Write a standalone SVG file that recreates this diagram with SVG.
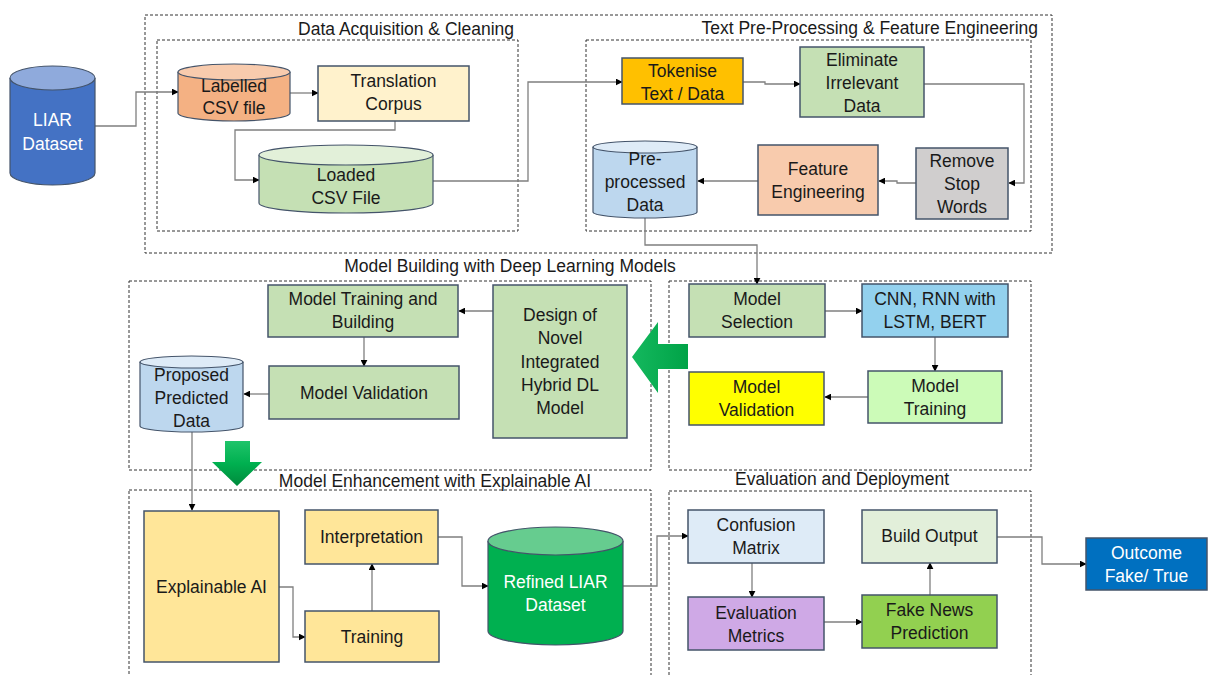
<svg xmlns="http://www.w3.org/2000/svg" width="1208" height="675" viewBox="0 0 1208 675">
  <defs>
    <marker id="arr" viewBox="0 0 10 10" refX="9" refY="5" markerWidth="7" markerHeight="7" orient="auto" markerUnits="userSpaceOnUse">
      <path d="M0,0 L10,5 L0,10 z" fill="#000"/>
    </marker>
    <linearGradient id="gV" x1="0" y1="0" x2="0" y2="1">
      <stop offset="0" stop-color="#1fc46a"/>
      <stop offset="0.5" stop-color="#00b050"/>
      <stop offset="1" stop-color="#008a3c"/>
    </linearGradient>
    <linearGradient id="gH" x1="0" y1="0" x2="1" y2="0">
      <stop offset="0" stop-color="#14b85e"/>
      <stop offset="1" stop-color="#00a347"/>
    </linearGradient>
    <style>
      text { font-family: "Liberation Sans", Arial, sans-serif; font-size: 17.5px; fill: #1a1a1a; text-anchor: middle; }
      .title { font-size: 17.5px; }
      .w { fill: #ffffff; }
      .box { stroke: #44546a; stroke-width: 1.5; }
      .cyl { stroke: #44546a; stroke-width: 1.2; }
      .frame { fill: none; stroke: #333; stroke-width: 1; stroke-dasharray: 3 2; }
      .conn { fill: none; stroke: #7f7f7f; stroke-width: 1.3; }
    </style>
  </defs>

  <rect width="1208" height="675" fill="#ffffff"/>

  <!-- stage frames -->
  <g id="frames">
    <rect class="frame" x="145" y="15" width="907" height="238"/>
    <rect class="frame" x="157" y="40" width="361" height="191"/>
    <rect class="frame" x="586" y="40" width="445" height="191"/>
    <rect class="frame" x="129" y="281" width="522" height="189"/>
    <rect class="frame" x="669" y="281" width="362" height="189"/>
    <rect class="frame" x="129" y="490" width="522" height="190"/>
    <rect class="frame" x="669" y="491" width="362" height="190"/>
  </g>

  <g id="titles">
    <text class="title" x="406" y="35">Data Acquisition &amp; Cleaning</text>
    <text class="title" x="1038" y="34" style="text-anchor:end">Text Pre-Processing &amp; Feature Engineering</text>
    <text class="title" x="510" y="272">Model Building with Deep Learning Models</text>
    <text class="title" x="435" y="487">Model Enhancement with Explainable AI</text>
    <text class="title" x="842" y="485">Evaluation and Deployment</text>
  </g>

  <!-- connectors -->
  <g id="connectors">
    <path class="conn" d="M95,126 H136 V92 H178" marker-end="url(#arr)"/>
    <path class="conn" d="M290,93 H318" marker-end="url(#arr)"/>
    <path class="conn" d="M395,121 V130 H235 V180 H259" marker-end="url(#arr)"/>
    <path class="conn" d="M433,181 H528 V82 H622" marker-end="url(#arr)"/>
    <path class="conn" d="M743,82 H765 V84 H800" marker-end="url(#arr)"/>
    <path class="conn" d="M924,84 H1024 V183 H1009" marker-end="url(#arr)"/>
    <path class="conn" d="M916,183 H897 V181 H879" marker-end="url(#arr)"/>
    <path class="conn" d="M758,181 H698" marker-end="url(#arr)"/>
    <path class="conn" d="M645,218 V245 H757 V284" marker-end="url(#arr)"/>
    <path class="conn" d="M493,311 H459" marker-end="url(#arr)"/>
    <path class="conn" d="M364,337 V366" marker-end="url(#arr)"/>
    <path class="conn" d="M269,394 H244" marker-end="url(#arr)"/>
    <path class="conn" d="M192,432 V510" marker-end="url(#arr)"/>
    <path class="conn" d="M825,311 H862" marker-end="url(#arr)"/>
    <path class="conn" d="M935,337 V371" marker-end="url(#arr)"/>
    <path class="conn" d="M868,397 H825" marker-end="url(#arr)"/>
    <path class="conn" d="M279,587 H293 V637 H305" marker-end="url(#arr)"/>
    <path class="conn" d="M372,611 V564" marker-end="url(#arr)"/>
    <path class="conn" d="M438,537 H462 V586 H488" marker-end="url(#arr)"/>
    <path class="conn" d="M623,586 H657 V536 H688" marker-end="url(#arr)"/>
    <path class="conn" d="M752,563 V597" marker-end="url(#arr)"/>
    <path class="conn" d="M824,622 H862" marker-end="url(#arr)"/>
    <path class="conn" d="M930,595 V563" marker-end="url(#arr)"/>
    <path class="conn" d="M997,537 H1042 V564 H1086" marker-end="url(#arr)"/>
  </g>

  <!-- big green block arrows -->
  <g id="arrow-left">
    <path d="M632,357 L658,322 V344 H688 V369 H658 V393 Z" fill="url(#gH)"/>
  </g>
  <g id="arrow-down">
    <path d="M225,441 H250 V462 H262 L237,486 L212,462 H225 Z" fill="url(#gV)"/>
  </g>

  <!-- nodes -->
  <g id="liar-dataset">
    <path class="cyl" d="M10,78 V173 A42.5,12 0 0 0 95,173 V78" fill="#4472c4"/>
    <ellipse class="cyl" cx="52.5" cy="78" rx="42.5" ry="12" fill="#8faadc"/>
    <text class="w" x="52.5" y="126">LIAR</text>
    <text class="w" x="52.5" y="150">Dataset</text>
  </g>

  <g id="labelled-csv">
    <path class="cyl" d="M178,72 V113 A56,8 0 0 0 290,113 V72" fill="#f4b183"/>
    <ellipse class="cyl" cx="234" cy="72" rx="56" ry="8" fill="#f8cbad"/>
    <text x="234" y="92">Labelled</text>
    <text x="234" y="114">CSV file</text>
  </g>

  <g id="translation-corpus">
    <rect class="box" x="318" y="66" width="151" height="55" fill="#fff2cc"/>
    <text x="393.5" y="87">Translation</text>
    <text x="393.5" y="110">Corpus</text>
  </g>

  <g id="loaded-csv">
    <path class="cyl" d="M259,155 V203 A87,10 0 0 0 433,203 V155" fill="#c5e0b4"/>
    <ellipse class="cyl" cx="346" cy="155" rx="87" ry="10" fill="#e2f0d9"/>
    <text x="346" y="181">Loaded</text>
    <text x="346" y="204">CSV File</text>
  </g>

  <g id="tokenise">
    <rect class="box" x="622" y="58" width="121" height="46" fill="#ffc000"/>
    <text x="682.5" y="77">Tokenise</text>
    <text x="682.5" y="100">Text / Data</text>
  </g>

  <g id="eliminate">
    <rect class="box" x="800" y="47" width="124" height="70" fill="#c5e0b4"/>
    <text x="862" y="66">Eliminate</text>
    <text x="862" y="89">Irrelevant</text>
    <text x="862" y="112">Data</text>
  </g>

  <g id="remove-stop-words">
    <rect class="box" x="916" y="148" width="92" height="71" fill="#d0cece"/>
    <text x="962" y="167">Remove</text>
    <text x="962" y="190">Stop</text>
    <text x="962" y="213">Words</text>
  </g>

  <g id="feature-engineering">
    <rect class="box" x="758" y="145" width="120" height="70" fill="#f8cbad"/>
    <text x="818" y="175">Feature</text>
    <text x="818" y="198">Engineering</text>
  </g>

  <g id="preprocessed-data">
    <path class="cyl" d="M593,147 V212 A52,6 0 0 0 697,212 V147" fill="#bdd7ee"/>
    <ellipse class="cyl" cx="645" cy="147" rx="52" ry="6" fill="#deebf7"/>
    <text x="645" y="165">Pre-</text>
    <text x="645" y="188">processed</text>
    <text x="645" y="211">Data</text>
  </g>

  <g id="model-training-building">
    <rect class="box" x="268" y="285" width="190" height="52" fill="#c5e0b4"/>
    <text x="363" y="305">Model Training and</text>
    <text x="363" y="328">Building</text>
  </g>

  <g id="design-hybrid">
    <rect class="box" x="493" y="285" width="134" height="153" fill="#c5e0b4"/>
    <text x="560" y="321">Design of</text>
    <text x="560" y="344">Novel</text>
    <text x="560" y="368">Integrated</text>
    <text x="560" y="391">Hybrid DL</text>
    <text x="560" y="414">Model</text>
  </g>

  <g id="model-validation-dl">
    <rect class="box" x="269" y="366" width="190" height="53" fill="#c5e0b4"/>
    <text x="364" y="399">Model Validation</text>
  </g>

  <g id="proposed-predicted">
    <path class="cyl" d="M140,362 V426 A51.5,6 0 0 0 243,426 V362" fill="#bdd7ee"/>
    <ellipse class="cyl" cx="191.5" cy="362" rx="51.5" ry="6" fill="#deebf7"/>
    <text x="191.5" y="381">Proposed</text>
    <text x="191.5" y="404">Predicted</text>
    <text x="191.5" y="427">Data</text>
  </g>

  <g id="model-selection">
    <rect class="box" x="689" y="284" width="136" height="53" fill="#c5e0b4"/>
    <text x="757" y="305">Model</text>
    <text x="757" y="328">Selection</text>
  </g>

  <g id="cnn-rnn-bert">
    <rect class="box" x="862" y="284" width="146" height="53" fill="#93d1ee"/>
    <text x="935" y="305">CNN, RNN with</text>
    <text x="935" y="328">LSTM, BERT</text>
  </g>

  <g id="model-training">
    <rect class="box" x="868" y="371" width="134" height="52" fill="#ccfbb8"/>
    <text x="935" y="392">Model</text>
    <text x="935" y="415">Training</text>
  </g>

  <g id="model-validation">
    <rect class="box" x="689" y="372" width="135" height="53" fill="#ffff00"/>
    <text x="756.5" y="393">Model</text>
    <text x="756.5" y="416">Validation</text>
  </g>

  <g id="explainable-ai">
    <rect class="box" x="144" y="511" width="135" height="151" fill="#ffe699"/>
    <text x="211.5" y="593">Explainable AI</text>
  </g>

  <g id="interpretation">
    <rect class="box" x="305" y="510" width="133" height="54" fill="#ffe699"/>
    <text x="371.5" y="543">Interpretation</text>
  </g>

  <g id="training">
    <rect class="box" x="305" y="611" width="134" height="51" fill="#ffe699"/>
    <text x="372" y="643">Training</text>
  </g>

  <g id="refined-liar">
    <path class="cyl" d="M488,541 V631 A67.5,14 0 0 0 623,631 V541" fill="#00b050"/>
    <ellipse class="cyl" cx="555.5" cy="541" rx="67.5" ry="14" fill="#66cc8f"/>
    <text class="w" x="555.5" y="588">Refined LIAR</text>
    <text class="w" x="555.5" y="611">Dataset</text>
  </g>

  <g id="confusion-matrix">
    <rect class="box" x="688" y="510" width="136" height="53" fill="#deebf7"/>
    <text x="756" y="531">Confusion</text>
    <text x="756" y="554">Matrix</text>
  </g>

  <g id="evaluation-metrics">
    <rect class="box" x="688" y="597" width="136" height="53" fill="#cfa9e6"/>
    <text x="756" y="619">Evaluation</text>
    <text x="756" y="642">Metrics</text>
  </g>

  <g id="fake-news-prediction">
    <rect class="box" x="862" y="595" width="135" height="53" fill="#92d050"/>
    <text x="929.5" y="616">Fake News</text>
    <text x="929.5" y="639">Prediction</text>
  </g>

  <g id="build-output">
    <rect class="box" x="862" y="510" width="135" height="53" fill="#e2efda"/>
    <text x="929.5" y="542">Build Output</text>
  </g>

  <g id="outcome">
    <rect class="box" x="1086" y="538" width="121" height="52" fill="#0070c0"/>
    <text class="w" x="1146.5" y="559">Outcome</text>
    <text class="w" x="1146.5" y="582">Fake/ True</text>
  </g>
</svg>
